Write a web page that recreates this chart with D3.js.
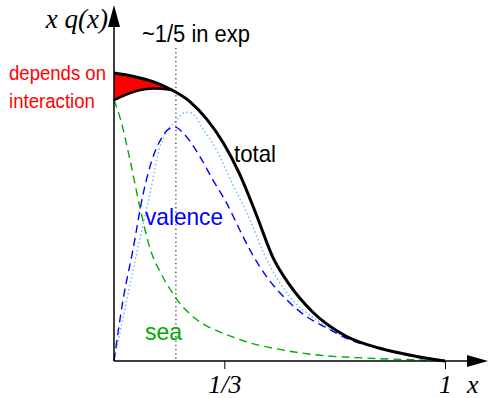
<!DOCTYPE html>
<html>
<head>
<meta charset="utf-8">
<script src="https://d3js.org/d3.v7.min.js"></script>
<style>
    body { margin: 0; background: #fff; }
</style>
</head>
<body>
<svg id="drawing_region"></svg>
<script>
// values (x in units of x, y in units of the total at x=0)
const total_x = [0, 0.06, 0.12, 0.175, 0.23, 0.28, 0.33, 0.38, 0.43, 0.48, 0.53, 0.6, 0.7, 0.8, 0.9, 1];
const total_y = [1.0, 0.988, 0.969, 0.941, 0.9, 0.84, 0.758, 0.648, 0.508, 0.36, 0.265, 0.17, 0.087, 0.045, 0.019, 0];

// lower edge of the red band (other interaction)
const inter_x = [0, 0.06, 0.12, 0.175];
const inter_y = [0.906, 0.935, 0.946, 0.941];

const valence_x = [0, 0.027, 0.057, 0.088, 0.114, 0.144, 0.165, 0.185, 0.21, 0.26, 0.299, 0.34, 0.38, 0.411, 0.461, 0.522, 0.582, 0.643, 0.704, 0.813, 0.915, 1];
const valence_y = [0, 0.21, 0.385, 0.58, 0.695, 0.775, 0.805, 0.812, 0.79, 0.709, 0.628, 0.549, 0.455, 0.385, 0.293, 0.212, 0.154, 0.115, 0.078, 0.041, 0.013, 0];

const valence2_x = [0, 0.069, 0.109, 0.139, 0.189, 0.218, 0.236, 0.269, 0.311, 0.36, 0.411, 0.45, 0.541, 0.613, 0.704, 0.813, 0.915, 1];
const valence2_y = [0, 0.375, 0.583, 0.744, 0.837, 0.864, 0.86, 0.805, 0.73, 0.61, 0.49, 0.38, 0.21, 0.142, 0.08, 0.042, 0.015, 0];

const sea_x = [0, 0.018, 0.048, 0.079, 0.109, 0.139, 0.169, 0.199, 0.23, 0.26, 0.305, 0.36, 0.411, 0.511, 0.613, 0.764, 0.964, 1];
const sea_y = [0.906, 0.846, 0.7, 0.53, 0.39, 0.31, 0.25, 0.2, 0.163, 0.135, 0.108, 0.083, 0.063, 0.038, 0.021, 0.01, 0.002, 0];

const exp_x = 0.187;
const tick_values = [1/3, 1];
const tick_labels = ["1/3", "1"];

const config = {
    width: 489,
    height: 398,
    margin: {top: 73, right: 44, bottom: 37, left: 114}
};

const pts = (xs, ys) => xs.map((x, i) => ({x: x, y: ys[i]}));

const svg = d3.select('#drawing_region')
    .attr('width', config.width)
    .attr('height', config.height);

const xscale = d3.scaleLinear()
    .domain([0, 1])
    .range([config.margin.left, config.width - config.margin.right]);

const yscale = d3.scaleLinear()
    .domain([0, 1])
    .range([config.height - config.margin.bottom, config.margin.top]);

const line = d3.line()
    .x(d => xscale(d.x))
    .y(d => yscale(d.y))
    .curve(d3.curveMonotoneX);

// red band between the two totals
const band = inter_x.map((x, i) => ({x: x, lo: inter_y[i], hi: total_y[i]}));
svg.append('path')
    .attr('d', d3.area()
        .x(d => xscale(d.x))
        .y0(d => yscale(d.lo))
        .y1(d => yscale(d.hi))
        .curve(d3.curveMonotoneX)(band))
    .attr('fill', '#ff0000');

svg.append('path')
    .attr('d', line(pts(sea_x, sea_y)))
    .attr('fill', 'none')
    .attr('stroke', '#00aa00')
    .attr('stroke-width', 1.4)
    .attr('stroke-dasharray', '8,5');

svg.append('path')
    .attr('d', line(pts(valence2_x, valence2_y)))
    .attr('fill', 'none')
    .attr('stroke', '#66c0ff')
    .attr('stroke-width', 1.5)
    .attr('stroke-dasharray', '1.5,2.5');

svg.append('path')
    .attr('d', line(pts(valence_x, valence_y)))
    .attr('fill', 'none')
    .attr('stroke', '#0000ff')
    .attr('stroke-width', 1.4)
    .attr('stroke-dasharray', '8,5');

// ~1/5 marker
svg.append('line')
    .attr('x1', xscale(exp_x)).attr('x2', xscale(exp_x))
    .attr('y1', 48).attr('y2', yscale(0))
    .attr('stroke', '#444')
    .attr('stroke-width', 1.3)
    .attr('stroke-dasharray', '1.3,3');

svg.append('path')
    .attr('d', line(pts(total_x, total_y)))
    .attr('fill', 'none')
    .attr('stroke', '#000')
    .attr('stroke-width', 3);

svg.append('path')
    .attr('d', line(pts(inter_x, inter_y)))
    .attr('fill', 'none')
    .attr('stroke', '#000')
    .attr('stroke-width', 2.5);

// axes
const x0 = xscale(0), y0 = yscale(0);
svg.append('line')
    .attr('x1', x0).attr('y1', y0).attr('x2', 470).attr('y2', y0)
    .attr('stroke', '#000').attr('stroke-width', 1.5);
svg.append('polygon')
    .attr('points', `488,${y0} 467,${y0 - 6} 467,${y0 + 6}`)
    .attr('fill', '#000');
svg.append('line')
    .attr('x1', x0).attr('y1', y0).attr('x2', x0).attr('y2', 25)
    .attr('stroke', '#000').attr('stroke-width', 1.5);
svg.append('polygon')
    .attr('points', `${x0},5 ${x0 - 6},27 ${x0 + 6},27`)
    .attr('fill', '#000');

const xaxis = d3.axisBottom(xscale)
    .tickValues(tick_values)
    .tickFormat((d, i) => tick_labels[i])
    .tickSize(8)
    .tickPadding(6);

const xaxis_group = svg.append('g')
    .attr('transform', `translate(0, ${y0})`)
    .call(xaxis);
xaxis_group.select('.domain').remove();
xaxis_group.attr('font-family', '"Liberation Serif", serif')
    .attr('font-size', 26)
    .attr('font-style', 'italic');
xaxis_group.selectAll('line').attr('stroke-width', 1);

svg.append('text')
    .attr('x', 467).attr('y', 393)
    .attr('font-family', '"Liberation Serif", serif')
    .attr('font-size', 26)
    .attr('font-style', 'italic')
    .text('x');

svg.append('text')
    .attr('x', 108).attr('y', 28)
    .attr('text-anchor', 'end')
    .attr('font-family', '"Liberation Serif", serif')
    .attr('font-size', 27)
    .attr('font-style', 'italic')
    .text('x q(x)');

// labels, squeezed a little like the narrow face of the original
const label = (x, y, size, w, color, txt) => svg.append('text')
    .attr('x', x).attr('y', y)
    .attr('font-family', '"Liberation Sans", Arial, sans-serif')
    .attr('font-size', size)
    .attr('textLength', w)
    .attr('lengthAdjust', 'spacingAndGlyphs')
    .attr('fill', color)
    .text(txt);

label(142, 42, 23, 108, '#000', '~1/5 in exp');
label(9, 80, 20.5, 97, '#ff0000', 'depends on');
label(9, 108, 20.5, 86, '#ff0000', 'interaction');
label(234, 162, 24, 42, '#000', 'total');
label(145, 225, 24, 78, '#0000ff', 'valence');
label(145, 340, 24, 37, '#00aa00', 'sea');
</script>
</body>
</html>
